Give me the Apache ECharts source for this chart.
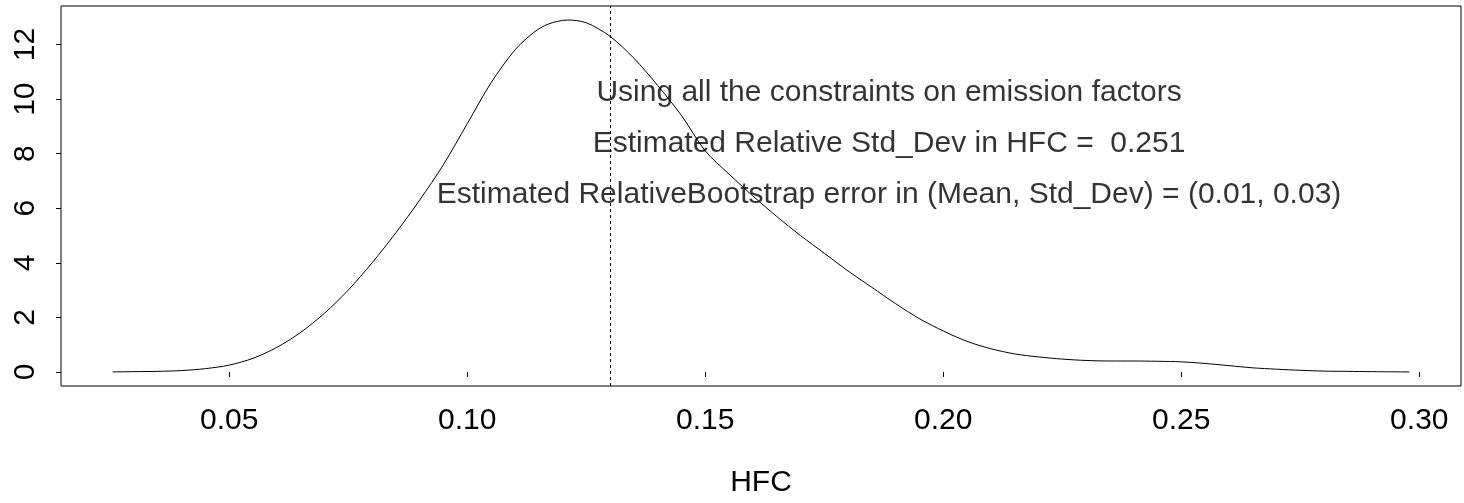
<!DOCTYPE html>
<html>
<head>
<meta charset="utf-8">
<script src="https://cdn.jsdelivr.net/npm/echarts@6/dist/echarts.min.js"></script>
<style>
html,body{margin:0;padding:0;background:#fff;}
#chart{width:1464px;height:503px;}
</style>
</head>
<body>
<div id="chart"></div>
<script>
// Density curve of HFC
const hfcX = [0.0255,0.03,0.035,0.04,0.045,0.05,0.055,0.06,0.065,0.07,0.075,0.08,0.085,0.09,0.095,0.10,0.105,0.11,0.114,0.117,0.121,0.125,0.13,0.135,0.14,0.145,0.15,0.155,0.16,0.165,0.17,0.175,0.18,0.185,0.19,0.195,0.20,0.205,0.21,0.215,0.22,0.225,0.23,0.235,0.24,0.245,0.25,0.255,0.26,0.265,0.27,0.275,0.28,0.285,0.29,0.2979];
const density = [0.0,0.01,0.02,0.05,0.12,0.25,0.5,0.9,1.45,2.15,3.0,4.0,5.1,6.3,7.6,9.1,10.6,11.8,12.45,12.75,12.9,12.8,12.3,11.5,10.5,9.4,8.1,7.25,6.45,5.7,5.0,4.35,3.7,3.1,2.5,1.95,1.5,1.12,0.85,0.66,0.55,0.47,0.42,0.4,0.4,0.39,0.37,0.31,0.23,0.15,0.1,0.06,0.03,0.02,0.01,0.0];
const meanHFC = 0.1313;
const xTicks = [0.05,0.10,0.15,0.20,0.25,0.30];
const yTicks = [0,2,4,6,8,10,12];
const noteText = [
  'Using all the constraints on emission factors',
  'Estimated Relative Std_Dev in HFC =  0.251',
  'Estimated RelativeBootstrap error in (Mean, Std_Dev) = (0.01, 0.03)'
];
const noteX = [0.1886,0.1886,0.1886];
const noteY = [10.22,8.35,6.48];
const xTitle = 'HFC';

const FONT = '"Liberation Sans", Arial, Helvetica, sans-serif';
const FS = 30;

const chart = echarts.init(document.getElementById('chart'), null, {renderer:'canvas'});
const curve = hfcX.map((x,i)=>[x,density[i]]);
const notes = noteText.map((t,i)=>[noteX[i],noteY[i],t]);

chart.setOption({
  animation:false,
  backgroundColor:'#fff',
  grid:{left:61,top:6,right:3,bottom:100,show:true,borderColor:'#000',borderWidth:1,containLabel:false},
  xAxis:{
    type:'value',min:0.01465,max:0.30876,
    name:xTitle,nameLocation:'middle',nameGap:82,
    nameTextStyle:{fontSize:FS,fontFamily:FONT,color:'#000'},
    axisLine:{show:false},
    splitLine:{show:false},
    axisTick:{show:true,length:5,inside:false,lineStyle:{color:'#000'},customValues:xTicks},
    axisLabel:{show:true,fontSize:FS,fontFamily:FONT,color:'#000',margin:20,customValues:xTicks,
      formatter:v=>v.toFixed(2)}
  },
  yAxis:{
    type:'value',min:-0.516,max:13.414,
    axisLine:{show:false},
    splitLine:{show:false},
    axisTick:{show:true,length:5,inside:false,lineStyle:{color:'#000'},customValues:yTicks},
    axisLabel:{show:true,fontSize:FS,fontFamily:FONT,color:'#000',rotate:90,margin:20,customValues:yTicks,
      formatter:v=>String(Math.round(v))}
  },
  series:[
    {
      type:'line',data:curve,showSymbol:false,smooth:0.3,
      lineStyle:{color:'#000',width:1},
      markLine:{
        silent:true,symbol:'none',label:{show:false},
        lineStyle:{color:'#000',width:1,type:[3,3]},
        data:[{xAxis:meanHFC}]
      }
    },
    {
      type:'scatter',data:notes,symbolSize:0,silent:true,
      label:{show:true,position:'inside',formatter:p=>p.value[2],
        fontSize:FS,fontFamily:FONT,color:'#000'}
    }
  ]
});
</script>
</body>
</html>
